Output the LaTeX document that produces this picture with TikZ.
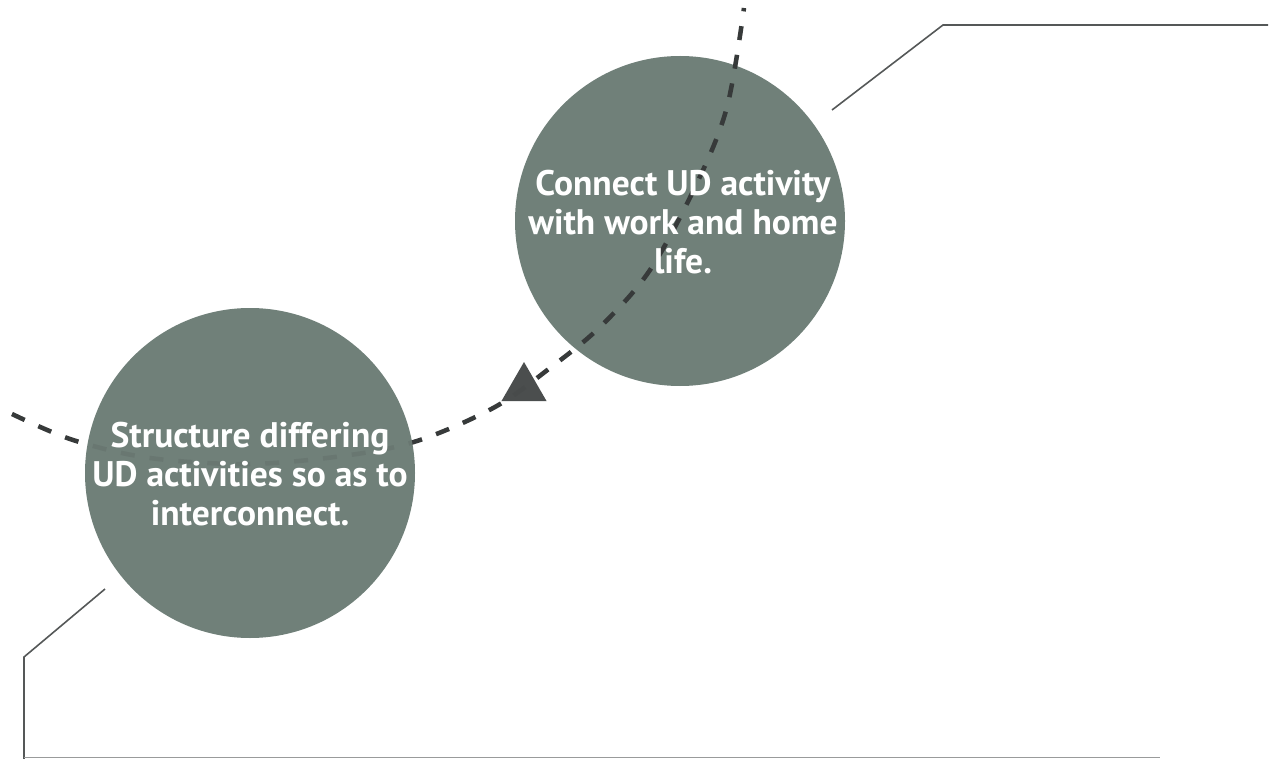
\documentclass[tikz,border=0pt]{standalone}
\usepackage{fontspec}
\setsansfont{PT Sans}
\usetikzlibrary{shapes.geometric}

\definecolor{discgray}{RGB}{112,128,121}
\definecolor{trailgray}{RGB}{55,58,58}
\definecolor{leadgray}{RGB}{85,88,88}

\begin{document}
\begin{tikzpicture}[x=1pt,y=-1pt,
        disc/.style={circle, fill=discgray, minimum size=330pt, inner sep=0pt},
        disctext/.style={text=white, font=\sffamily\bfseries\fontsize{35.5}{39}\selectfont,
                align=center},
        trail/.style={line width=4.5pt, color=trailgray, dash pattern=on 14pt off 15pt},
        lead/.style={line width=1.6pt, color=leadgray},
        marker/.style={regular polygon, regular polygon sides=3, fill=trailgray!90,
                minimum size=52pt, inner sep=0pt}]
        \useasboundingbox (0,0) rectangle (1271,759);
        % upper disc sits under the trail
        \node[disc] (connect) at (680,221) {};
        \def\trailpath{plot[smooth, tension=0.55] coordinates {(12,414) (73,440) (150,458)
                (250,464) (350,455) (420,440) (495,407) (550,368) (600,327) (650,270)
                (697,183) (727,107) (744,8)}}
        \draw[trail] \trailpath;
        \node[marker] (arrowhead) at (524,388) {};
        % lower disc hides the trail, which shows through faintly
        \node[disc] (structure) at (250,473) {};
        \draw[trail, opacity=0.12] \trailpath;
        \node[disctext] (connect text) at (683,222) {Connect UD activity\\with work and home\\life.};
        \node[disctext] (structure text) at (250,474) {Structure differing\\UD activities so as to\\interconnect.};
        % leader lines
        \coordinate (up start) at (832,110);
        \coordinate (up bend) at (943,25);
        \coordinate (up end) at (1268,25);
        \coordinate (low start) at (105,589);
        \coordinate (low bend) at (24,657);
        \coordinate (low end) at (24,759);
        \coordinate (base start) at (24,757.5);
        \coordinate (base end) at (1160,757.5);
        \draw[lead] (up start) -- (up bend) -- (up end);
        \draw[lead] (low start) -- (low bend) -- (low end);
        \draw[lead, color=leadgray!60] (base start) -- (base end);
\end{tikzpicture}
\end{document}
